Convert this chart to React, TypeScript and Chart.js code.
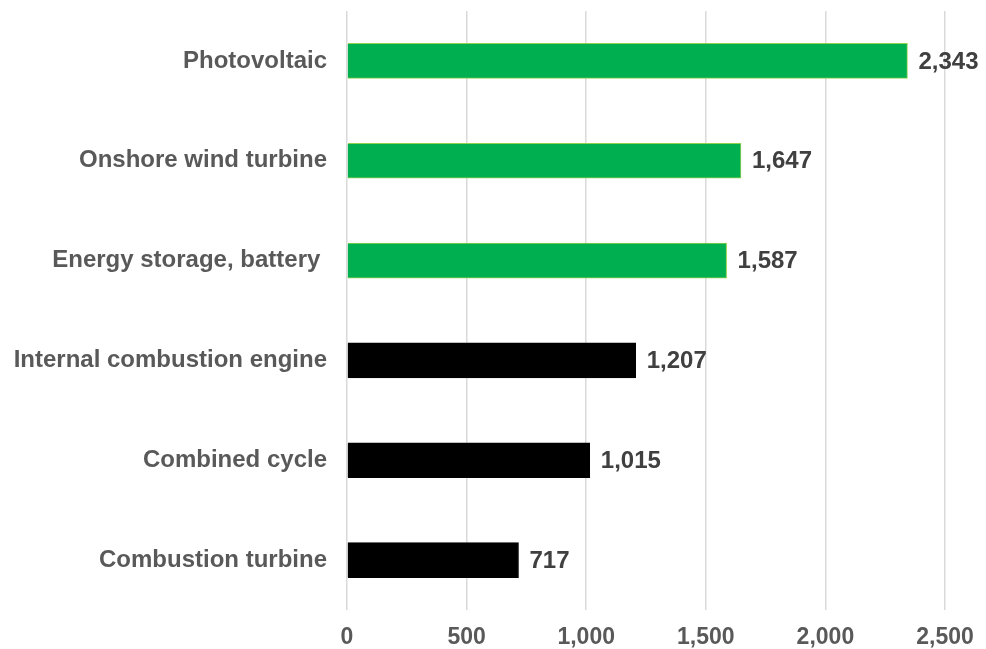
import React, { useEffect, useRef } from "react";
import { Chart, registerables } from "chart.js";

Chart.register(...registerables);

const categories = [
  "Photovoltaic",
  "Onshore wind turbine",
  "Energy storage, battery ",
  "Internal combustion engine",
  "Combined cycle",
  "Combustion turbine",
];
const values = [2343, 1647, 1587, 1207, 1015, 717];
const barColors = ["#00B050", "#00B050", "#00B050", "#000000", "#000000", "#000000"];
const borderColors = ["#92D050", "#92D050", "#92D050", "#000000", "#000000", "#000000"];
const xTicks = [0, 500, 1000, 1500, 2000, 2500];

const FONT = '"Liberation Sans", Arial, sans-serif';

const valueLabels = {
  id: "valueLabels",
  afterDatasetsDraw(chart: any) {
    const ctx = chart.ctx;
    const meta = chart.getDatasetMeta(0);
    ctx.save();
    ctx.font = `bold 24px ${FONT}`;
    ctx.fillStyle = "#404040";
    ctx.textAlign = "left";
    ctx.textBaseline = "middle";
    meta.data.forEach((bar: any, i: number) => {
      const v = values[i];
      ctx.fillText(v.toLocaleString("en-US"), bar.x + 11, bar.y + 1);
    });
    ctx.restore();
  },
};

export default function App() {
  const ref = useRef<HTMLCanvasElement>(null);
  useEffect(() => {
    if (!ref.current) return;
    const chart = new Chart(ref.current, {
      type: "bar",
      data: {
        labels: categories,
        datasets: [
          {
            data: values,
            backgroundColor: barColors,
            borderColor: borderColors,
            borderWidth: 1,
            barThickness: 35,
            categoryPercentage: 1,
          },
        ],
      },
      options: {
        indexAxis: "y",
        animation: false,
        responsive: false,
        maintainAspectRatio: false,
        layout: { padding: { top: 11, right: 41, left: 0, bottom: 0 } },
        plugins: {
          legend: { display: false },
          tooltip: { enabled: false },
        },
        scales: {
          x: {
            min: 0,
            max: 2500,
            afterBuildTicks: (scale: any) => {
              scale.ticks = xTicks.map((v) => ({ value: v }));
            },
            afterFit: (scale: any) => {
              scale.height = 39;
              scale.paddingLeft = 0;
              scale.paddingRight = 0;
            },
            grid: { color: "#D9D9D9", lineWidth: 1.5, drawTicks: false },
            border: { display: false },
            ticks: {
              color: "#595959",
              font: { family: FONT, size: 23, weight: "bold" },
              padding: 14,
              callback: (v: any) => Number(v).toLocaleString("en-US"),
            },
          },
          y: {
            afterFit: (scale: any) => {
              scale.width = 347;
              scale.paddingTop = 0;
              scale.paddingBottom = 0;
            },
            grid: { display: false },
            border: { display: false },
            ticks: {
              color: "#595959",
              font: { family: FONT, size: 24, weight: "bold" },
              padding: 12,
            },
          },
        },
      },
      plugins: [valueLabels],
    });
    return () => chart.destroy();
  }, []);
  return (
    <div style={{ position: "fixed", left: 0, top: 0, width: 986, height: 649, background: "#fff" }}>
      <canvas ref={ref} width={986} height={649} />
    </div>
  );
}
